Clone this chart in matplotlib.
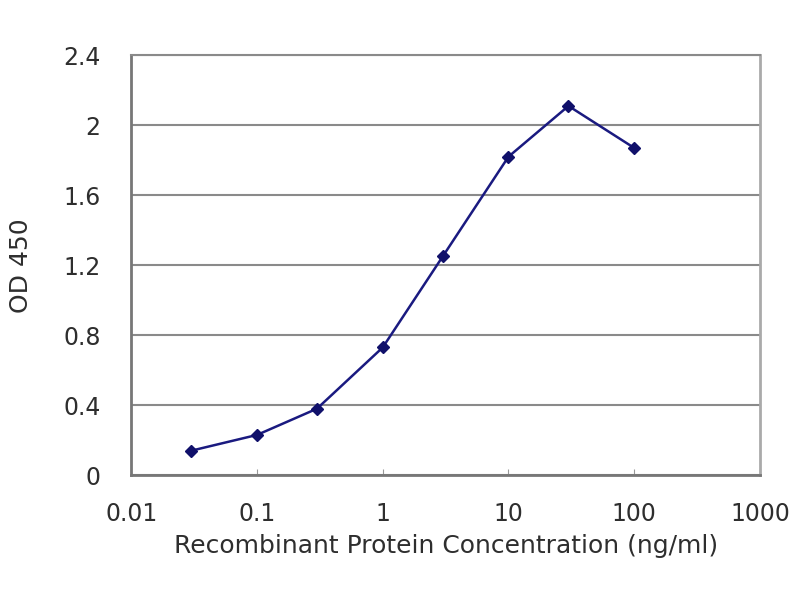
import matplotlib
matplotlib.use('Agg')
import matplotlib.pyplot as plt

concentration = [0.03, 0.1, 0.3, 1, 3, 10, 30, 100]
od450 = [0.14, 0.23, 0.38, 0.73, 1.25, 1.82, 2.11, 1.87]
y_ticks = [0, 0.4, 0.8, 1.2, 1.6, 2, 2.4]
y_tick_labels = ['0', '0.4', '0.8', '1.2', '1.6', '2', '2.4']
x_ticks = [0.01, 0.1, 1, 10, 100, 1000]
x_tick_labels = ['0.01', '0.1', '1', '10', '100', '1000']

plt.rcParams['font.family'] = ['DejaVu Sans']
text_color = '#2e2e2e'

fig = plt.figure(figsize=(8, 6), dpi=100)
ax = fig.add_axes([0.164, 0.208, 0.786, 0.700])

ax.plot(concentration, od450, color='#1a1a80', linewidth=1.8,
        marker='D', markersize=6, markerfacecolor='#10106a', markeredgecolor='#10106a')

ax.set_xscale('log')
ax.set_xlim(0.01, 1000)
ax.set_ylim(0, 2.4)
ax.set_xticks(x_ticks)
ax.set_xticklabels(x_tick_labels)
ax.minorticks_off()
ax.set_yticks(y_ticks)
ax.set_yticklabels(y_tick_labels)

ax.grid(axis='y', color='#8a8a8a', linewidth=1.5)
ax.set_axisbelow(True)
for side in ['left', 'bottom']:
    ax.spines[side].set_color('#777777')
    ax.spines[side].set_linewidth(2)
ax.spines['right'].set_color('#aaaaaa')
ax.spines['right'].set_linewidth(2)
ax.spines['top'].set_color('#8a8a8a')
ax.spines['top'].set_linewidth(1.5)

ax.tick_params(axis='y', length=0, pad=22, labelsize=17, labelcolor=text_color)
ax.tick_params(axis='x', direction='in', length=4, color='#999999', pad=19,
               labelsize=17, labelcolor=text_color)

ax.set_xlabel('Recombinant Protein Concentration (ng/ml)', fontsize=18,
              color=text_color, labelpad=6)
ax.set_ylabel('OD 450', fontsize=18, color=text_color, labelpad=22)

fig.savefig('out.png', dpi=100)
